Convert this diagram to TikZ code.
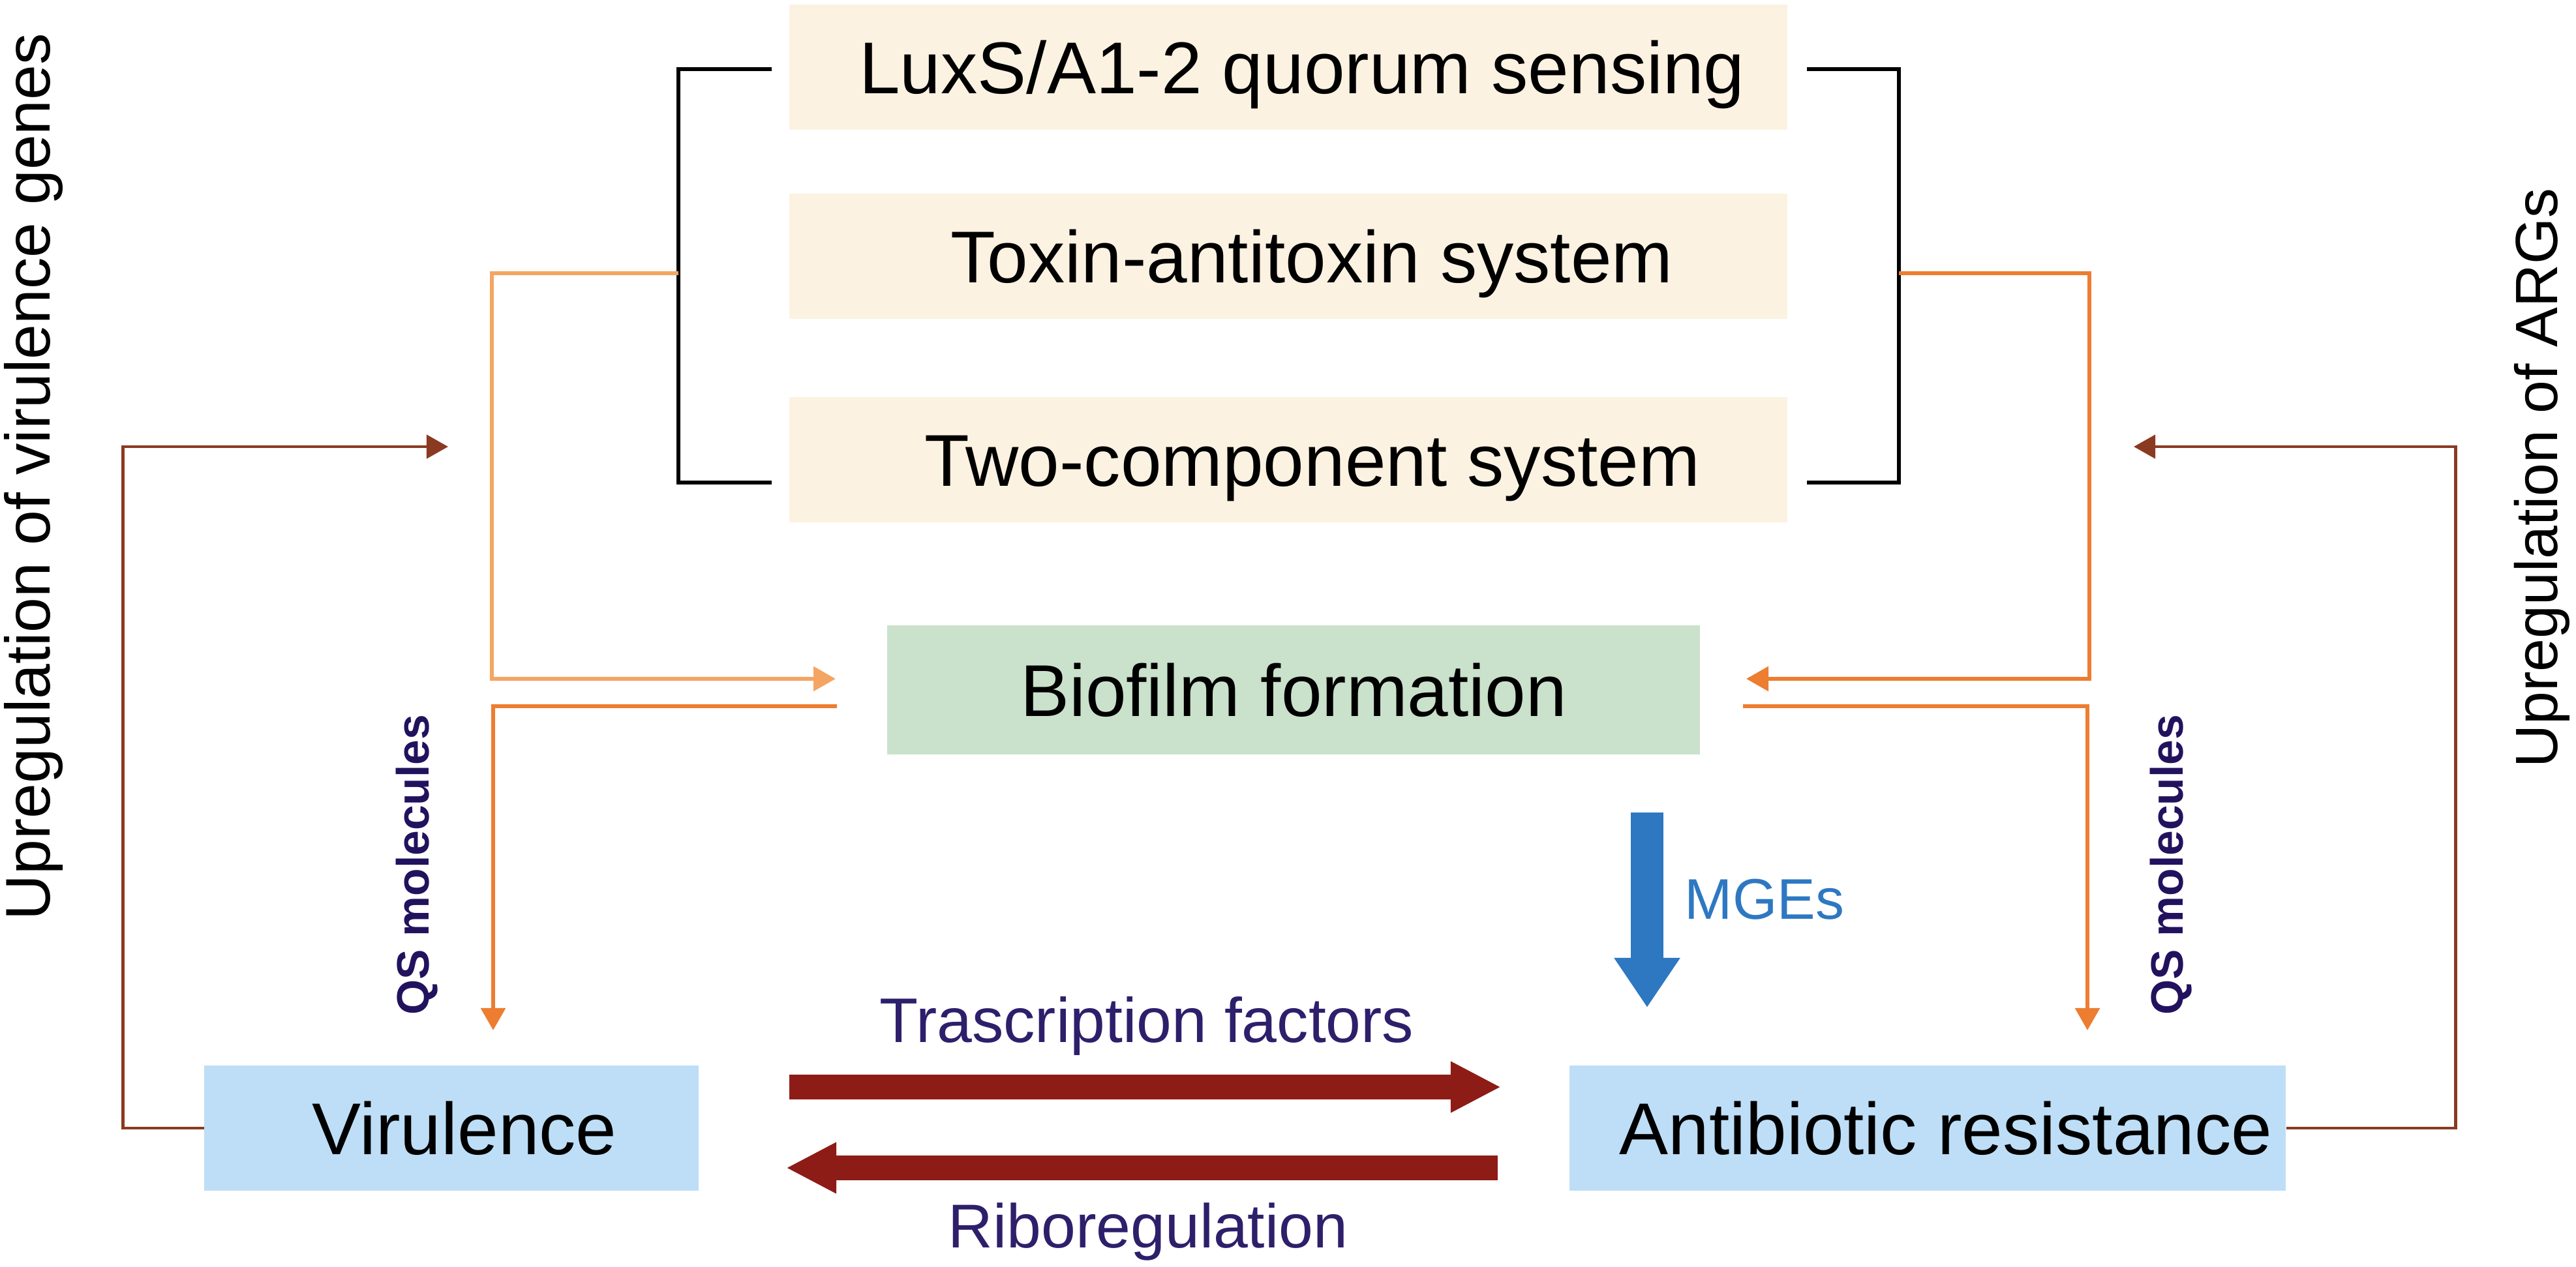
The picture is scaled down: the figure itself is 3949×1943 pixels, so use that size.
\documentclass[tikz,border=0pt]{standalone}
\usepackage{fontspec}
\setmainfont{Liberation Sans}
\usetikzlibrary{arrows.meta}
\definecolor{cream}{HTML}{FCF2E1}
\definecolor{biogreen}{HTML}{CAE1CB}
\definecolor{boxblue}{HTML}{BDDEF6}
\definecolor{olight}{HTML}{F4A562}
\definecolor{odark}{HTML}{ED7D31}
\definecolor{brownline}{HTML}{8B3A22}
\definecolor{bigredc}{HTML}{8E1C16}
\definecolor{mgeblue}{HTML}{2E78C2}
\definecolor{purpletext}{HTML}{2E1F6B}
\definecolor{qstext}{HTML}{22125E}
\tikzset{
  boxbase/.style={inner sep=0pt, text height=0.8cm, text depth=0pt,
    font=\fontsize{32}{38}\selectfont},
  topbox/.style={boxbase, fill=cream, minimum width=15.3cm, minimum height=1.92cm},
  biobox/.style={boxbase, fill=biogreen, minimum width=12.46cm, minimum height=1.97cm},
  outbox/.style={boxbase, fill=boxblue, minimum height=1.92cm},
  bracket/.style={draw=black, line width=0.06cm},
  oarrowlight/.style={draw=olight, line width=0.06cm, -{Triangle[length=0.34cm,width=0.37cm]}},
  oarrow/.style={draw=odark, line width=0.06cm, -{Triangle[length=0.34cm,width=0.37cm]}},
  barrow/.style={draw=brownline, line width=0.045cm, -{Triangle[length=0.33cm,width=0.36cm]}},
  bigred/.style={draw=bigredc, line width=0.38cm, -{Triangle[length=0.77cm,width=0.73cm]}},
  mgearrow/.style={draw=mgeblue, line width=0.5cm, -{Triangle[length=0.76cm,width=0.96cm]}},
  lbl/.style={inner sep=0pt, anchor=base},
}
\begin{document}
\begin{tikzpicture}[x=0.01cm, y=-0.01cm]
\useasboundingbox (0,0) rectangle (3949,1943);

% boxes
\node[topbox] (lux) at (1975,103) {\hspace*{0.42cm}LuxS/A1-2 quorum sensing};
\node[topbox] (tox) at (1975,393) {\hspace*{0.72cm}Toxin-antitoxin system};
\node[topbox] (two) at (1975,705) {\hspace*{0.74cm}Two-component system};
\node[biobox] (bio) at (1983,1058) {Biofilm formation};
\node[outbox, minimum width=7.57cm] (vir) at (692,1730) {\hspace*{0.4cm}Virulence};
\node[outbox, minimum width=10.97cm] (abr) at (2955,1730) {\hspace*{0.56cm}Antibiotic resistance};

% bracket end points
\coordinate (bLt) at (1183,106);
\coordinate (bLb) at (1183,740);
\coordinate (bRt) at (2770,106);
\coordinate (bRb) at (2770,740);
\draw[bracket] (bLt) -- ++(-143,0) |- (bLb);
\draw[bracket] (bRt) -- ++(141,0) |- (bRb);

% orange connectors
\coordinate (oL) at (1040,419);
\coordinate (oLend) at (1281,1041);
\coordinate (oL2) at (1283,1083);
\coordinate (qvL) at (756,1580);
\draw[oarrowlight] (oL) -- ++(-286,0) |- (oLend);
\draw[oarrow] (oL2) -| (qvL);

\coordinate (oR) at (2911,419);
\coordinate (oRend) at (2677,1041);
\coordinate (oR2) at (2672,1083);
\coordinate (qvR) at (3200,1580);
\draw[oarrow] (oR) -- ++(292,0) |- (oRend);
\draw[oarrow] (oR2) -| (qvR);

% brown feedback
\coordinate (bwL) at (687,685);
\coordinate (bwR) at (3271,685);
\draw[barrow] (vir.west) -- ++(-124,0) |- (bwL);
\draw[barrow] (abr.east) -- ++(260,0) |- (bwR);

% big red arrows
\coordinate (tfs) at (1210,1667);
\coordinate (tfe) at (2301,1667);
\coordinate (rbs) at (2296,1791);
\coordinate (rbe) at (1205,1791);
\draw[bigred] (tfs) -- (tfe);
\draw[bigred] (rbs) -- (rbe);

% MGEs arrow
\coordinate (mgs) at (2525,1246);
\coordinate (mge) at (2525,1545);
\draw[mgearrow] (mgs) -- (mge);

% labels
\node[lbl, text=purpletext, font=\fontsize{27.5}{33}\selectfont] (tf) at (1758,1598) {Trascription factors};
\node[lbl, text=purpletext, font=\fontsize{27}{32}\selectfont] (rb) at (1760,1913) {Riboregulation};
\node[lbl, text=mgeblue, font=\fontsize{25}{30}\selectfont] (mg) at (2705,1409) {MGEs};
\node[lbl, rotate=90, text=qstext, font=\bfseries\fontsize{19.8}{24}\selectfont] (qsL) at (657,1326) {QS molecules};
\node[lbl, rotate=90, text=qstext, font=\bfseries\fontsize{19.8}{24}\selectfont] (qsR) at (3346,1326) {QS molecules};
\node[lbl, rotate=90, font=\fontsize{27.5}{33}\selectfont] (upL) at (76,731) {Upregulation of virulence genes};
\node[lbl, rotate=90, font=\fontsize{26}{31}\selectfont] (upR) at (3920,733) {Upregulation of ARGs};
\end{tikzpicture}
\end{document}
